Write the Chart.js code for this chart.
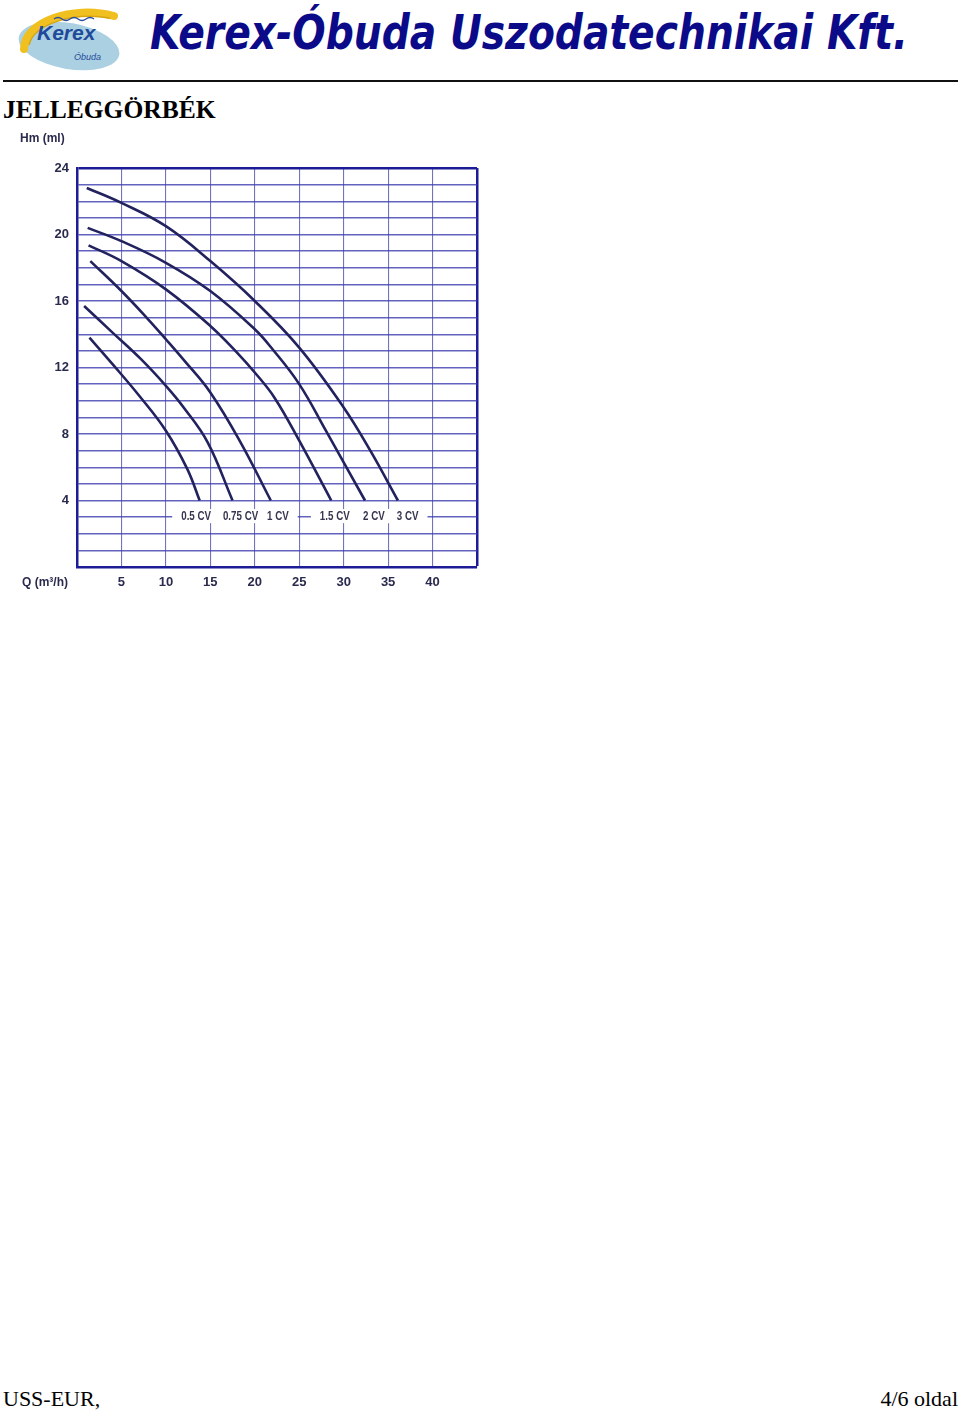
<!DOCTYPE html>
<html>
<head>
<meta charset="utf-8">
<script src="https://cdn.jsdelivr.net/npm/chart.js@4"></script>
<style>
  html, body { margin: 0; padding: 0; background: #fff; }
  body { width: 960px; height: 1413px; position: relative; overflow: hidden; }
  #logo { position: absolute; left: 10px; top: 2px; }
  #title { position: absolute; left: 150px; top: 4px; white-space: nowrap; transform-origin: 0 0;
    font: italic bold 48px "DejaVu Sans", Verdana, sans-serif; color: #0b0b8a; }
  #rule { position: absolute; left: 3px; top: 80px; width: 955px; height: 0; border-top: 2px solid #111; }
  #heading { position: absolute; left: 3px; top: 95px; font: bold 25.5px "Liberation Serif", "Times New Roman", serif; color: #000; }
  .foot { position: absolute; top: 1386px; font: 22px "Liberation Serif", "Times New Roman", serif; color: #000; }
  #chartBox { position: absolute; left: 0; top: 125px; width: 520px; height: 475px; }
</style>
</head>
<body>
<svg id="logo" width="115" height="72" viewBox="0 0 115 72">
  <ellipse cx="59" cy="44" rx="51" ry="23" transform="rotate(10 59 44)" fill="#abd0e2"/>
  <path d="M14 47 C 14 20, 62 3, 104 14" stroke="#f0c020" stroke-width="8" fill="none" stroke-linecap="round"/>
  <path d="M19 43 C 24 22, 62 10, 100 16" stroke="#d8a410" stroke-width="1.5" fill="none"/>
  <path d="M44 17 q4 -3 8 0 t8 0 t8 0 t8 0 t8 0" stroke="#2a4d9c" stroke-width="1.3" fill="none"/>
  <text x="27" y="38" font-family="Liberation Sans, Arial, sans-serif" font-style="italic" font-weight="bold" font-size="21" fill="#1f4a9a">Kerex</text>
  <text x="64" y="58" font-family="Liberation Sans, Arial, sans-serif" font-style="italic" font-size="9" fill="#1f4a9a">Óbuda</text>
</svg>
<div id="title">Kerex-Óbuda Uszodatechnikai Kft.</div>
<div id="rule"></div>
<div id="heading">JELLEGGÖRBÉK</div>
<div id="chartBox"><canvas id="myChart" width="520" height="475"></canvas></div>
<div class="foot" style="left:3px">USS-EUR,</div>
<div class="foot" style="right:2px">4/6 oldal</div>

<script>
// Q (m3/h) and Hm (m)
const q05  = [1.4, 4, 7, 10, 12.4, 13.8];
const h05  = [13.8, 12.2, 10.3, 8.2, 5.9, 4.0];
const q075 = [0.8, 4, 7.2, 10, 12, 14.7, 17.5];
const h075 = [15.7, 14.1, 12.5, 10.9, 9.6, 7.5, 4.0];
const q1   = [1.5, 5, 8, 10, 12.1, 15, 18.4, 21.8];
const h1   = [18.4, 16.6, 14.9, 13.7, 12.4, 10.5, 7.5, 4.0];
const q15  = [1.3, 5, 10, 15, 18, 20, 22.2, 25, 28.6];
const h15  = [19.35, 18.4, 16.7, 14.5, 12.9, 11.7, 10.2, 7.6, 4.0];
const q2   = [1.2, 5, 10, 15, 20, 22, 25, 28, 32.4];
const h2   = [20.4, 19.6, 18.3, 16.6, 14.3, 13.1, 11.0, 8.2, 4.0];
const q3   = [1.1, 5, 10, 15, 20, 25, 30, 33, 36.1];
const h3   = [22.8, 21.9, 20.5, 18.4, 16.0, 13.2, 9.6, 7.0, 4.0];

const seriesNames = ['0.5 CV', '0.75 CV', '1 CV', '1.5 CV', '2 CV', '3 CV'];
// where each name is written (Q value of its centre, Hm of the row)
const labelQ = [13.4, 18.4, 22.6, 29.0, 33.4, 37.2];
const labelH = 3;
const xTicks = [5, 10, 15, 20, 25, 30, 35, 40];
const yTicks = [4, 8, 12, 16, 20, 24];

// fit the company name to the width in the letterhead
const title = document.getElementById('title');
title.style.transform = 'scaleX(' + (758 / title.getBoundingClientRect().width) + ')';

function zipxy(xs, ys) {
  const obj = [];
  for (let i = 0; i < xs.length; i++) obj.push({x: xs[i], y: ys[i]});
  return obj;
}

const curveColor = '#22225e';
const borderColor = '#1c1c96';
const tickColor = '#2a2a4e';
const tickFont = {family: '"Liberation Sans", Arial, sans-serif', size: 13, weight: 'bold'};

const allQ = [q05, q075, q1, q15, q2, q3];
const allH = [h05, h075, h1, h15, h2, h3];
const datasets = seriesNames.map((name, i) => ({
  label: name,
  data: zipxy(allQ[i], allH[i]),
  showLine: true,
  borderColor: curveColor,
  borderWidth: 2.6,
  pointRadius: 0,
  tension: 0.4,
  fill: false
}));

// CV names under the curve ends, on a white patch over the grid (condensed like the print)
const curveLabels = {
  id: 'curveLabels',
  afterDatasetsDraw(chart) {
    const {ctx, scales} = chart;
    const sx = 0.75;
    ctx.save();
    ctx.font = 'bold 13px "Liberation Sans", Arial, sans-serif';
    ctx.textBaseline = 'middle';
    ctx.textAlign = 'center';
    const y = scales.y.getPixelForValue(labelH) - 1;
    ctx.fillStyle = '#fff';
    for (let i = 0; i < seriesNames.length; i++) {
      const x = scales.x.getPixelForValue(labelQ[i]);
      const w = ctx.measureText(seriesNames[i]).width * sx;
      ctx.fillRect(x - w / 2 - 9, y - 7, w + 18, 14);
    }
    ctx.fillStyle = '#35354f';
    for (let i = 0; i < seriesNames.length; i++) {
      const x = scales.x.getPixelForValue(labelQ[i]);
      ctx.save();
      ctx.translate(x, y);
      ctx.scale(sx, 1);
      ctx.fillText(seriesNames[i], 0, 0);
      ctx.restore();
    }
    ctx.restore();
  }
};

// axis names sit outside the grid like on the data sheet
const axisNames = {
  id: 'axisNames',
  afterDraw(chart) {
    const {ctx, chartArea} = chart;
    ctx.save();
    ctx.font = 'bold 12px "Liberation Sans", Arial, sans-serif';
    ctx.fillStyle = tickColor;
    ctx.textBaseline = 'middle';
    ctx.textAlign = 'left';
    ctx.fillText('Hm (ml)', chartArea.left - 57, chartArea.top - 29);
    ctx.fillText('Q (m³/h)', chartArea.left - 55, chartArea.bottom + 16);
    ctx.restore();
  }
};

const config = {
  type: 'scatter',
  data: {datasets: datasets},
  options: {
    responsive: false,
    animation: false,
    layout: {padding: {left: 0, right: 43, top: 43, bottom: 0}},
    plugins: {legend: {display: false}, tooltip: {enabled: false}},
    scales: {
      x: {
        type: 'linear', min: 0, max: 45,
        afterFit(s) { s.height = 33; },
        afterBuildTicks(s) { s.ticks = [0, ...xTicks, 45].map(v => ({value: v})); },
        ticks: {
          autoSkip: false, maxRotation: 0, padding: 8, color: tickColor, font: tickFont,
          callback: v => xTicks.includes(v) ? String(v) : ''
        },
        grid: {
          drawTicks: false,
          color: c => c.tick && c.tick.value === 45 ? borderColor : 'rgba(70,70,165,0.75)',
          lineWidth: c => c.tick && c.tick.value === 45 ? 2.5 : 1.1
        },
        border: {color: borderColor, width: 2.5}
      },
      y: {
        type: 'linear', min: 0, max: 24,
        afterFit(s) { s.width = 77; },
        ticks: {
          stepSize: 1, autoSkip: false, padding: 8, color: tickColor, font: tickFont,
          callback: v => yTicks.includes(v) ? String(v) : ''
        },
        grid: {
          drawTicks: false,
          color: c => c.tick && c.tick.value === 24 ? borderColor : 'rgba(60,60,175,0.8)',
          lineWidth: c => c.tick && c.tick.value === 24 ? 2.5 : 1.4
        },
        border: {color: borderColor, width: 2.5}
      }
    }
  },
  plugins: [curveLabels, axisNames]
};

const myChart = new Chart(document.getElementById('myChart'), config);
</script>
</body>
</html>
